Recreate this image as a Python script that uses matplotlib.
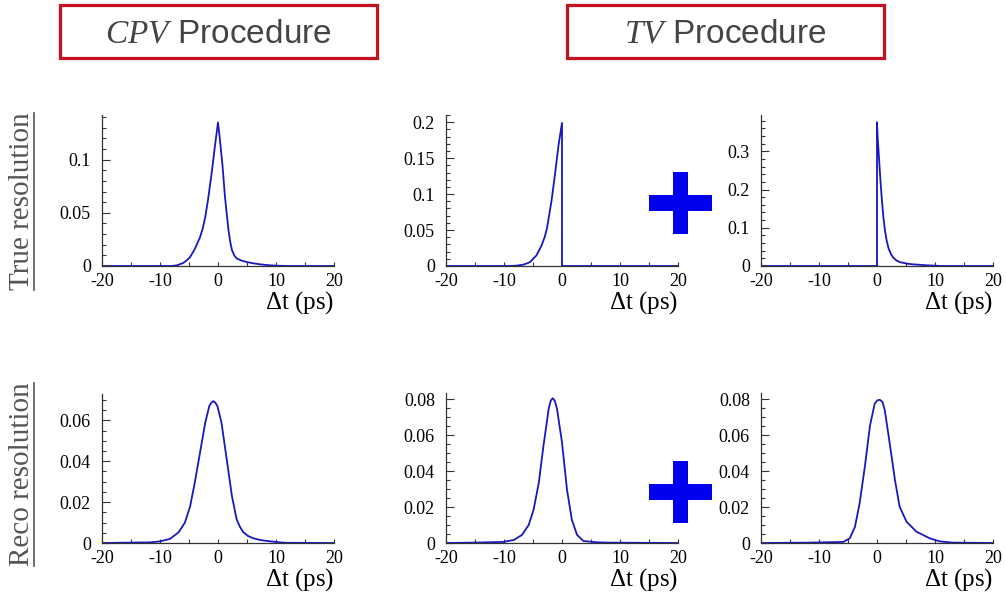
import matplotlib
matplotlib.use('Agg')
import matplotlib.pyplot as plt
from matplotlib.patches import Rectangle
from matplotlib.lines import Line2D
from matplotlib.ticker import MultipleLocator, FuncFormatter

plt.rcParams['axes.unicode_minus'] = False
plt.rcParams['mathtext.fontset'] = 'custom'
plt.rcParams['mathtext.it'] = 'Liberation Serif:italic'
plt.rcParams['mathtext.rm'] = 'Liberation Serif'

# resolution functions, delta t in ps
cpv_true_t = [-20, -8.0, -7.1, -6.0, -5.4, -4.8, -4.0, -3.1, -2.6, -2.2, -1.7, -1.1, -0.5, 0.0,
              0.35, 0.8, 1.2, 1.8, 2.1, 2.4, 2.8, 3.2, 4.0, 4.9, 6.0, 7.2, 8.6, 10.1, 12.0, 20]
cpv_true_y = [0, 0, 0.0006, 0.0028, 0.0052, 0.0085, 0.016, 0.027, 0.036, 0.046, 0.063, 0.087,
              0.114, 0.135, 0.118, 0.093, 0.065, 0.034, 0.023, 0.015, 0.010, 0.0072, 0.0052,
              0.0038, 0.0026, 0.0016, 0.0008, 0.0003, 0, 0]

tv_true_neg_t = [-20, -9.0, -7.8, -6.7, -6.1, -5.5, -4.4, -3.5, -3.0, -2.6, -1.8, -1.2, -0.6,
                 0.0, 0.0, 20]
tv_true_neg_y = [0, 0, 0.0005, 0.0019, 0.0034, 0.0056, 0.0148, 0.029, 0.040, 0.052, 0.091,
                 0.128, 0.168, 0.199, 0, 0]

tv_true_pos_t = [-20, 0.0, 0.0, 0.1, 0.35, 0.5, 0.8, 1.1, 1.4, 1.7, 2.0, 2.4, 2.8, 3.4, 4.0,
                 5.2, 6.3, 7.5, 8.6, 9.8, 11.0, 20]
tv_true_pos_y = [0, 0, 0.376, 0.34, 0.282, 0.245, 0.180, 0.128, 0.090, 0.064, 0.046, 0.031,
                 0.022, 0.014, 0.010, 0.006, 0.0042, 0.003, 0.0018, 0.001, 0, 0]

cpv_reco_t = [-20, -14.6, -11.7, -10.0, -8.3, -6.8, -5.7, -4.8, -4.0, -3.1, -2.2, -1.5, -1.15,
              -0.8, -0.45, -0.1, 0.6, 1.5, 2.4, 3.2, 3.8, 4.4, 5.2, 6.1, 7.2, 8.4, 10.7, 11.8, 20]
cpv_reco_y = [0, 0.0002, 0.0003, 0.0008, 0.002, 0.0052, 0.010, 0.018, 0.0296, 0.0442, 0.0589,
              0.067, 0.0686, 0.0694, 0.0686, 0.067, 0.0589, 0.041, 0.023, 0.0117, 0.0078, 0.0052,
              0.0034, 0.0023, 0.0015, 0.001, 0.0003, 0.0001, 0]

tv_reco_neg_t = [-20, -15.2, -10.1, -8.3, -6.9, -5.75, -4.9, -4.0, -3.2, -2.3, -1.95, -1.6,
                 -1.25, -0.86, 0.0, 0.86, 1.7, 2.6, 3.7, 6.0, 7.8, 20]
tv_reco_neg_y = [0, 0.0002, 0.0006, 0.0017, 0.0045, 0.010, 0.0185, 0.0335, 0.054, 0.0746, 0.0792,
                 0.0806, 0.0792, 0.0746, 0.056, 0.0297, 0.0129, 0.0045, 0.0011, 0.0004, 0.0002, 0]

tv_reco_pos_t = [-20, -11.6, -5.8, -4.7, -3.8, -3.0, -2.1, -1.2, -0.4, 0.05, 0.5, 0.95, 1.35,
                 2.2, 3.1, 3.9, 5.1, 6.8, 9.1, 10.8, 13.1, 20]
tv_reco_pos_y = [0, 0.0002, 0.0006, 0.0026, 0.009, 0.022, 0.0424, 0.0655, 0.0775, 0.0794, 0.0797,
                 0.0785, 0.0738, 0.0553, 0.035, 0.0202, 0.0118, 0.0063, 0.0026, 0.0009, 0.0002, 0]

W, H = 1006, 602
fig = plt.figure(figsize=(W / 100, H / 100), dpi=100)


def fx(x):
    return x / W


def fy(y):
    return 1 - y / H


def add_panel(x0, x1, y_top, y_bot, t, y, ymax, major, minor):
    ax = fig.add_axes([fx(x0), fy(y_bot), (x1 - x0) / W, (y_bot - y_top) / H])
    ax.plot(t, y, color='#1818c0', lw=1.3)
    ax.set_xlim(-20, 20)
    ax.set_ylim(0, ymax)
    for s in ('top', 'right'):
        ax.spines[s].set_visible(False)
    for s in ('left', 'bottom'):
        ax.spines[s].set_color('#333333')
        ax.spines[s].set_linewidth(0.9)
    ax.xaxis.set_major_locator(MultipleLocator(10))
    ax.xaxis.set_minor_locator(MultipleLocator(5))
    ax.yaxis.set_major_locator(MultipleLocator(major))
    ax.yaxis.set_minor_locator(MultipleLocator(minor))
    fmt = FuncFormatter(lambda v, p: '%g' % round(v, 6))
    ax.xaxis.set_major_formatter(fmt)
    ax.yaxis.set_major_formatter(fmt)
    ax.tick_params(axis='x', which='both', direction='in', length=3, width=0.8,
                   color='#333333', pad=5)
    ax.tick_params(axis='y', which='major', direction='in', length=6, width=0.8,
                   color='#333333', pad=8)
    ax.tick_params(axis='y', which='minor', direction='in', length=3, width=0.8,
                   color='#333333')
    for lab in ax.get_xticklabels() + ax.get_yticklabels():
        lab.set_family('Liberation Serif')
        lab.set_fontsize(13)
    ax.text(1.0, -37 / (y_bot - y_top), r'$\Delta$t (ps)', transform=ax.transAxes,
            ha='right', va='center', family='Liberation Serif', fontsize=18)
    ax.patch.set_alpha(0)
    return ax


cols = [(102, 334), (446, 678), (761, 993)]
add_panel(*cols[0], 115, 266, cpv_true_t, cpv_true_y, 0.142, 0.05, 0.01)
add_panel(*cols[1], 115, 266, tv_true_neg_t, tv_true_neg_y, 0.21, 0.05, 0.01)
add_panel(*cols[2], 115, 266, tv_true_pos_t, tv_true_pos_y, 0.395, 0.1, 0.02)
add_panel(*cols[0], 394, 543, cpv_reco_t, cpv_reco_y, 0.0729, 0.02, 0.005)
add_panel(*cols[1], 393, 543, tv_reco_neg_t, tv_reco_neg_y, 0.0835, 0.02, 0.005)
add_panel(*cols[2], 393, 543, tv_reco_pos_t, tv_reco_pos_y, 0.0835, 0.02, 0.005)

# procedure headers
for x0, x1, label in [(60, 377, r'$\mathit{CPV}$ Procedure'),
                      (567, 884, r'$\mathit{TV}$ Procedure')]:
    fig.add_artist(Rectangle((fx(x0), fy(58)), (x1 - x0) / W, 53 / H,
                             transform=fig.transFigure, fill=False,
                             edgecolor='#c4121e', lw=2.3))
    fig.text(fx((x0 + x1) / 2), fy(34), label, ha='center', va='center',
             family='Liberation Sans', fontsize=24, color='#444444')

# row titles with underline
for yc, y0, y1, label in [(201, 113, 290, 'True resolution'),
                          (474, 383, 566, 'Reco resolution')]:
    fig.text(fx(22), fy(yc), label, rotation=90, ha='center', va='center',
             family='Liberation Serif', fontsize=21, color='#555555')
    fig.add_artist(Line2D([fx(34), fx(34)], [fy(y1), fy(y0)],
                          transform=fig.transFigure, color='#555555', lw=1.2))

# plus signs between the TV panels
for yc in (203, 492):
    fig.add_artist(Rectangle((fx(649), fy(yc + 8)), 63 / W, 16 / H,
                             transform=fig.transFigure, color='#0000f0', lw=0))
    fig.add_artist(Rectangle((fx(673), fy(yc + 31)), 15 / W, 62 / H,
                             transform=fig.transFigure, color='#0000f0', lw=0))

fig.savefig('out.png', dpi=100)
